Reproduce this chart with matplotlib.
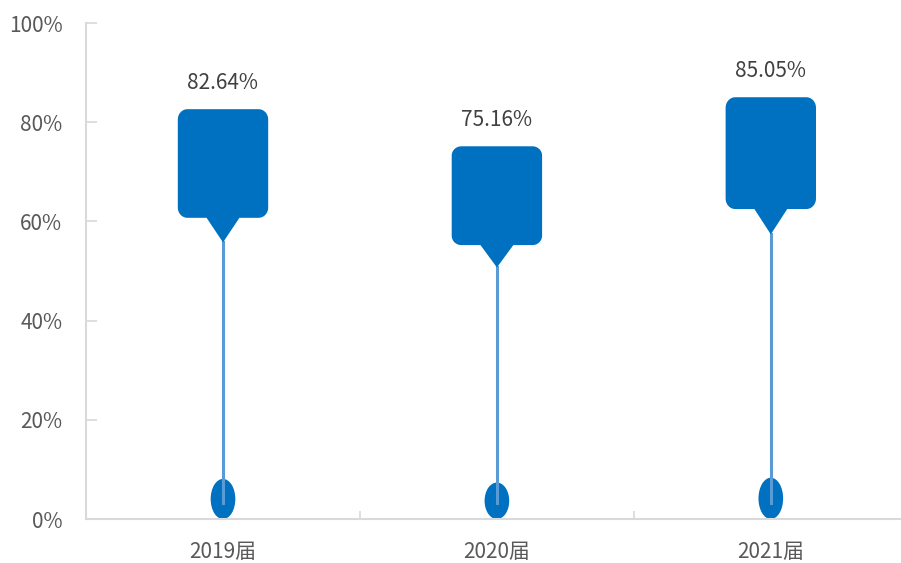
import matplotlib.pyplot as plt
import numpy as np
from matplotlib.patches import Polygon, Ellipse

plt.rcParams['font.family'] = ['Noto Sans CJK SC', 'DejaVu Sans']

categories = ['2019届', '2020届', '2021届']
values = [82.64, 75.16, 85.05]
labels = ['82.64%', '75.16%', '85.05%']

box_color = '#0070C0'
line_color = '#5B9BD5'
axis_color = '#D9D9D9'
text_color = '#595959'


def callout(xc, top, ax):
    # rounded box with a pointer underneath, scaled with the value
    half_w = 0.165
    bottom = top * 0.735
    tip = top * 0.675
    rx, ry = 0.035, top * 0.025
    pw = 0.06
    pts = []
    # corners: top-right, top-left, bottom-left, bottom-right
    corners = [(xc + half_w - rx, top - ry, 0, 90),
               (xc - half_w + rx, top - ry, 90, 180),
               (xc - half_w + rx, bottom + ry, 180, 270),
               (xc + half_w - rx, bottom + ry, 270, 360)]
    for i, (cx, cy, a0, a1) in enumerate(corners):
        if i == 3:
            pts += [(xc - pw, bottom), (xc, tip), (xc + pw, bottom)]
        t = np.radians(np.linspace(a0, a1, 12))
        pts += list(zip(cx + rx * np.cos(t), cy + ry * np.sin(t)))
    ax.add_patch(Polygon(pts, closed=True, color=box_color, lw=0, zorder=3))
    return tip


fig = plt.figure(figsize=(9.01, 5.63), dpi=100)
ax = fig.add_axes([0.0955, 0.078, 0.912, 0.881])

x = np.arange(len(categories))
for i, v in enumerate(values):
    tip = callout(x[i], v, ax)
    eh = v * 0.098
    ax.add_patch(Ellipse((x[i], eh / 2), 0.09, eh, color=box_color, lw=0, zorder=2))
    ax.plot([x[i], x[i]], [3.2, tip], color=line_color, lw=2.2, zorder=2.5)
    ax.annotate(labels[i], (x[i], v), xytext=(0, 11), textcoords='offset points',
                ha='center', va='bottom', fontsize=15, color='#404040')

ax.set_xlim(-0.5, 2.5)
ax.set_ylim(0, 100)
ax.set_yticks(np.arange(0, 101, 20))
ax.set_yticklabels([f'{t}%' for t in range(0, 101, 20)])
ax.set_xticks(x)
ax.set_xticklabels(categories)
ax.set_xticks([0.5, 1.5], minor=True)

for s in ['top', 'right']:
    ax.spines[s].set_visible(False)
for s in ['left', 'bottom']:
    ax.spines[s].set_color(axis_color)
    ax.spines[s].set_linewidth(1.5)

ax.tick_params(axis='y', direction='in', length=8, width=1.2, color=axis_color,
               labelsize=15, labelcolor=text_color, pad=17)
ax.tick_params(axis='x', which='major', length=0, labelsize=15,
               labelcolor=text_color, pad=16)
ax.tick_params(axis='x', which='minor', direction='in', length=6, width=1.2,
               color=axis_color)

fig.savefig('out.png', dpi=100)
